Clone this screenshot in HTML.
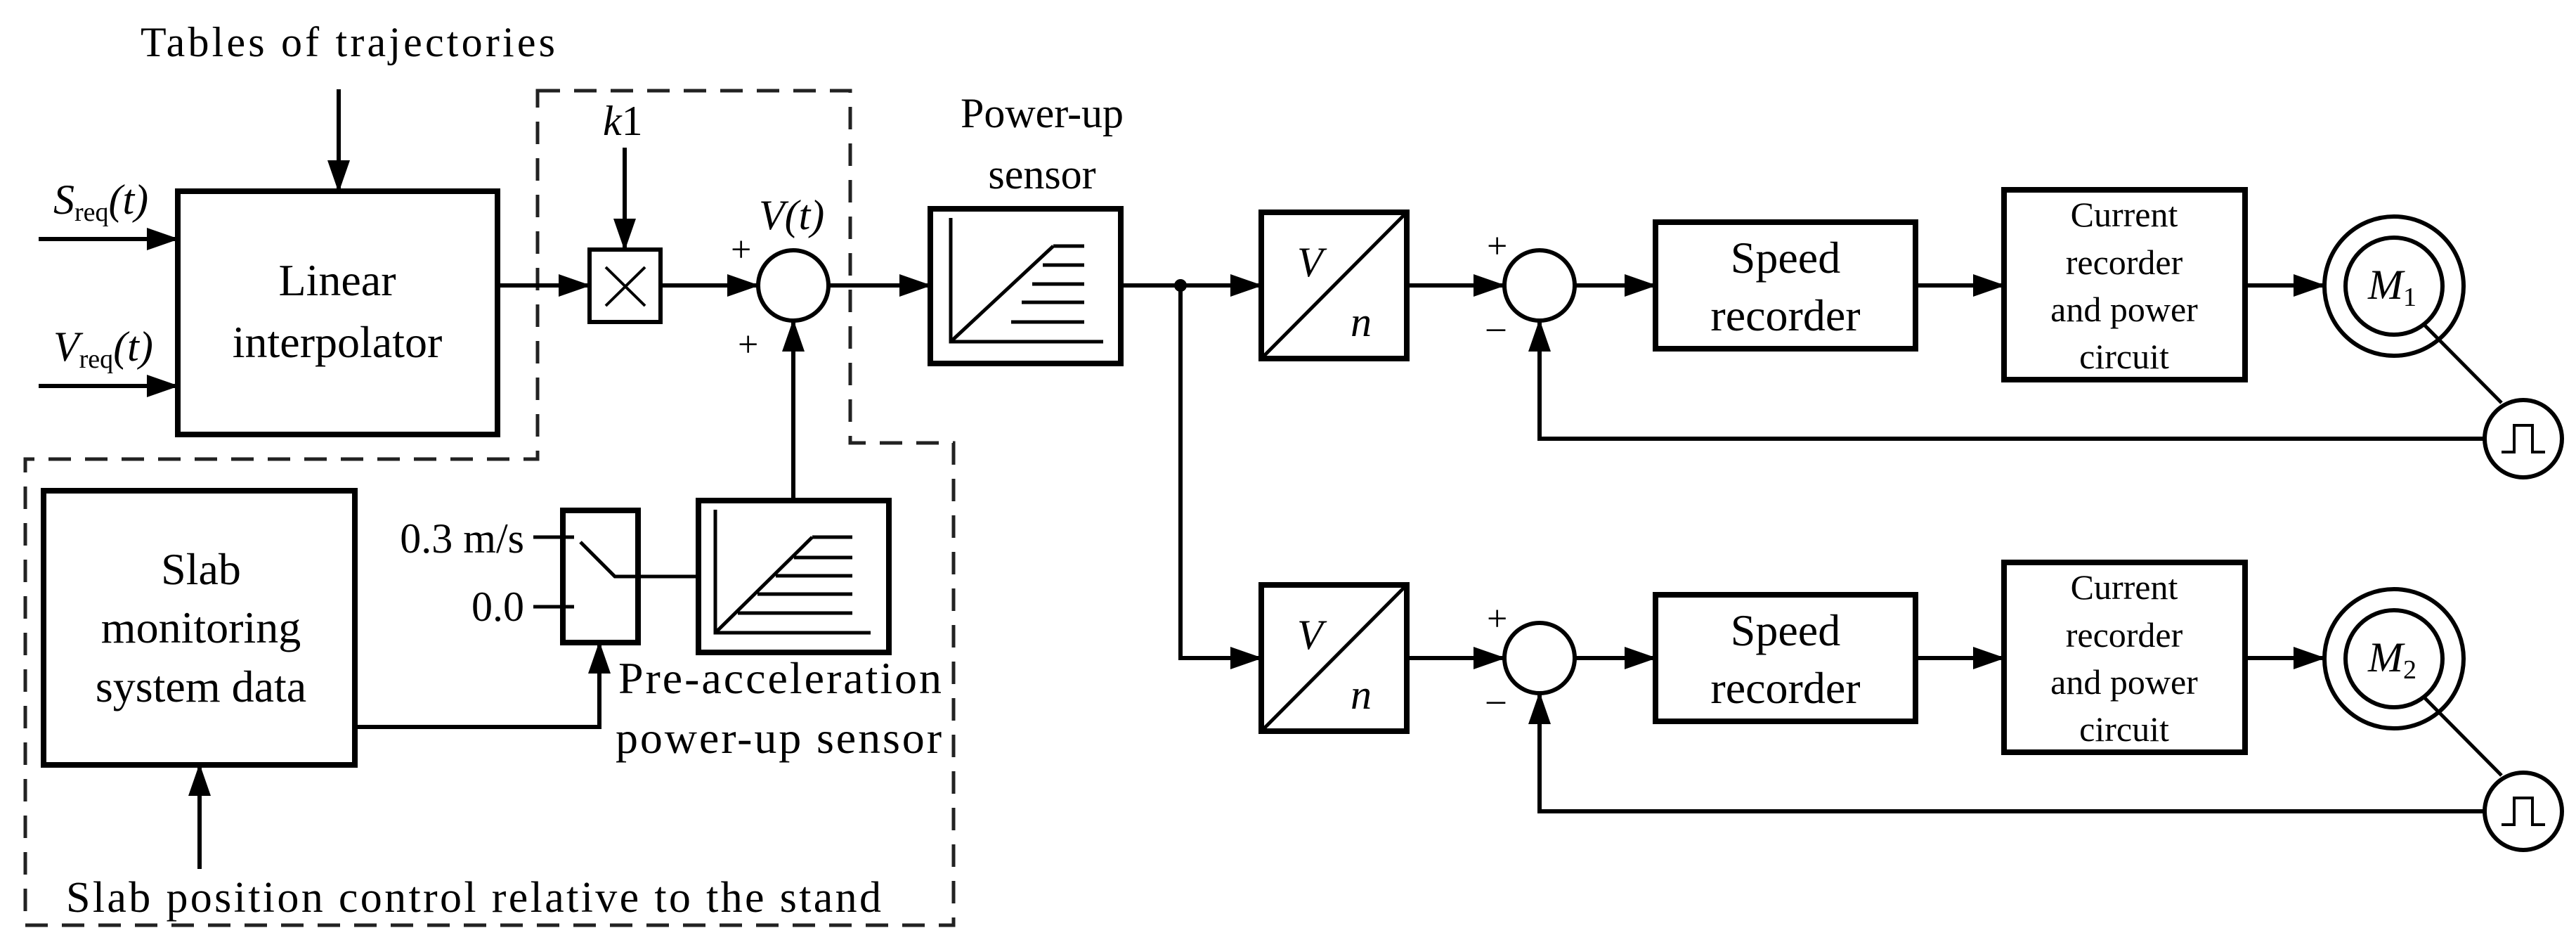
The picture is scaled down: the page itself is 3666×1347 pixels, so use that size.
<!DOCTYPE html>
<html><head><meta charset="utf-8"><style>
html,body{margin:0;padding:0;background:#fff}
svg{display:block}
svg text{font-family:"Liberation Serif","DejaVu Serif",serif;fill:#000}
</style></head><body>
<svg width="3666" height="1347" viewBox="0 0 3666 1347" xmlns="http://www.w3.org/2000/svg" font-family="Liberation Serif, DejaVu Serif, serif">
<defs>
<marker id="a" markerUnits="userSpaceOnUse" markerWidth="46" markerHeight="36" refX="44" refY="18" orient="auto">
<path d="M0,2 L46,18 L0,34 Z" fill="#000"/></marker>
</defs>
<g fill="none" stroke="#000">
<path d="M765,129 H1210 V630 H1357 V1316 H36 V653 H765 Z" stroke-width="5" stroke-dasharray="32,20" stroke="#222"/>
<g stroke-width="8">
<rect x="253" y="272" width="455" height="346"/>
<rect x="839" y="355" width="101" height="103" stroke-width="6"/>
<rect x="62" y="698" width="443" height="390"/>
<rect x="801" y="726" width="107" height="188"/>
<rect x="994" y="712" width="271" height="216"/>
<rect x="1324" y="297" width="271" height="220"/>
<rect x="1795" y="302" width="207" height="208"/>
<rect x="1795" y="832" width="207" height="208"/>
<rect x="2356" y="316" width="370" height="180"/>
<rect x="2356" y="846" width="370" height="180"/>
<rect x="2852" y="270" width="343" height="270"/>
<rect x="2852" y="800" width="343" height="270"/>
</g>
<g stroke-width="6">
<circle cx="1129" cy="406" r="50"/>
<circle cx="2191" cy="406" r="50"/>
<circle cx="2191" cy="936" r="50"/>
<circle cx="3407" cy="407" r="99"/><circle cx="3407" cy="407" r="69"/>
<circle cx="3407" cy="937" r="99"/><circle cx="3407" cy="937" r="69"/>
<circle cx="3591" cy="624" r="55"/>
<circle cx="3591" cy="1154" r="55"/>
</g>
<path d="M862,380 L918,435 M918,380 L862,435" stroke-width="4"/>
<path d="M1797,508 L2000,304 M1797,1038 L2000,834" stroke-width="5"/>
<g stroke-width="5">
<path d="M1353,310 V486 H1570 M1353,486 L1499,350 M1499,350 H1543 M1484,377 H1543 M1469,404 H1543 M1454,430 H1543 M1439,458 H1543"/>
<path d="M1018,725 V900 H1239 M1018,900 L1156,764 M1156,764 H1213 M1130,793 H1213 M1104,819 H1213 M1078,845 H1213 M1050,872 H1213"/>
<path d="M3560,643 H3578 V605 H3604 V643 H3622 M3560,1173 H3578 V1135 H3604 V1173 H3622" stroke-width="4"/>
<path d="M3450,462 L3560,573 M3450,992 L3560,1103"/>
</g>
<g stroke-width="6" marker-end="url(#a)">
<path d="M482,127 V272"/>
<path d="M55,340 H253"/>
<path d="M55,549 H253"/>
<path d="M708,406 H839"/>
<path d="M889,210 V355"/>
<path d="M940,406 H1079"/>
<path d="M1180,406 H1324"/>
<path d="M1129,712 V456"/>
<path d="M1595,406 H1795"/>
<path d="M1680,406 V936 H1795"/>
<path d="M2002,406 H2141"/>
<path d="M2002,936 H2141"/>
<path d="M2241,406 H2356"/>
<path d="M2241,936 H2356"/>
<path d="M2726,406 H2852"/>
<path d="M2726,936 H2852"/>
<path d="M3195,406 H3308"/>
<path d="M3195,936 H3308"/>
<path d="M3536,624 H2191 V456"/>
<path d="M3536,1154 H2191 V986"/>
<path d="M505,1034 H853 V914"/>
<path d="M284,1236 V1088"/>
</g>
<g stroke-width="5">
<path d="M759,764 H817 M759,863 H817"/>
<path d="M826,771 L875,820 H994"/>
</g>
</g>
<circle cx="1680" cy="406" r="9" fill="#000"/>
<g font-size="60">
<text x="200" y="80" font-size="60" textLength="590">Tables of trajectories</text>
<text x="76" y="304" font-style="italic">S<tspan font-size="38" font-style="normal" dy="10">req</tspan><tspan dy="-10">(t)</tspan></text>
<text x="76" y="513" font-style="italic">V<tspan font-size="38" font-style="normal" dy="10">req</tspan><tspan dy="-10">(t)</tspan></text>
<text x="480" y="420" text-anchor="middle" font-size="64">Linear</text>
<text x="480" y="508" text-anchor="middle" font-size="64">interpolator</text>
<text x="858" y="192" font-style="italic">k<tspan font-style="normal">1</tspan></text>
<text x="1080" y="326" font-style="italic">V(t)</text>
<text x="1040" y="372" font-size="52">+</text>
<text x="1050" y="507" font-size="52">+</text>
<text x="1483" y="181" text-anchor="middle">Power-up</text>
<text x="1483" y="268" text-anchor="middle">sensor</text>
<text x="286" y="831" text-anchor="middle" font-size="64">Slab</text>
<text x="286" y="914" text-anchor="middle" font-size="64">monitoring</text>
<text x="286" y="998" text-anchor="middle" font-size="64">system data</text>
<text x="746" y="786" text-anchor="end">0.3 m/s</text>
<text x="746" y="883" text-anchor="end">0.0</text>
<text x="880" y="986" font-size="64" textLength="460">Pre-acceleration</text>
<text x="876" y="1071" font-size="64" textLength="464">power-up sensor</text>
<text x="94" y="1297" font-size="62" textLength="1160">Slab position control relative to the stand</text>
<text x="1846" y="393" font-style="italic">V</text>
<text x="1922" y="478" font-style="italic">n</text>
<text x="1846" y="923" font-style="italic">V</text>
<text x="1922" y="1008" font-style="italic">n</text>
<text x="2116" y="367" font-size="52">+</text>
<text x="2116" y="482" font-size="52">–</text>
<text x="2116" y="897" font-size="52">+</text>
<text x="2116" y="1012" font-size="52">–</text>
<text x="2541" y="388" text-anchor="middle" font-size="64">Speed</text>
<text x="2541" y="470" text-anchor="middle" font-size="64">recorder</text>
<text x="2541" y="918" text-anchor="middle" font-size="64">Speed</text>
<text x="2541" y="1000" text-anchor="middle" font-size="64">recorder</text>
<g font-size="50" text-anchor="middle">
<text x="3023" y="322">Current</text><text x="3023" y="390">recorder</text><text x="3023" y="457">and power</text><text x="3023" y="524">circuit</text>
<text x="3023" y="852">Current</text><text x="3023" y="920">recorder</text><text x="3023" y="987">and power</text><text x="3023" y="1054">circuit</text>
</g>
<text x="3370" y="425" font-style="italic">M<tspan font-size="38" font-style="normal" dy="10">1</tspan></text>
<text x="3370" y="955" font-style="italic">M<tspan font-size="38" font-style="normal" dy="10">2</tspan></text>
</g>
</svg>
</body></html>
